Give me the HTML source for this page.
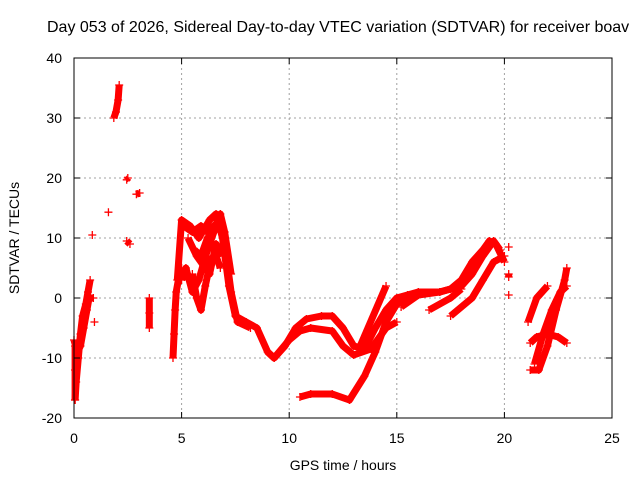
<!DOCTYPE html>
<html><head><meta charset="utf-8"><style>
body{margin:0;background:#fff;width:640px;height:480px;overflow:hidden}
svg text{font-family:"Liberation Sans",sans-serif;font-size:14px;fill:#000}
</style></head><body>
<svg id="chart" width="640" height="480" viewBox="0 0 640 480" xmlns="http://www.w3.org/2000/svg">
<rect width="640" height="480" fill="#fff"/>
<g id="grid"></g>
<g id="marks"></g>
<rect x="74" y="58" width="538" height="360" fill="none" stroke="#000" stroke-width="1"/>
<g id="ticks"></g>
<text x="47" y="32" style="font-size:16px">Day 053 of 2026, Sidereal Day-to-day VTEC variation (SDTVAR) for receiver boav</text>
<text x="343" y="470" text-anchor="middle">GPS time / hours</text>
<text transform="translate(19,238) rotate(-90)" text-anchor="middle">SDTVAR / TECUs</text>
</svg>
<script>
const xTicks=[0,5,10,15,20,25];
const yTicks=[-20,-10,0,10,20,30,40];
const tracks=[
 [[0.05,-17],[0.1,-14],[0.2,-10],[0.3,-6],[0.4,-3],[0.55,-1],[0.65,1],[0.75,3]],
 [[0.05,-8],[0.05,-12],[0.05,-17]],
 [[0.0,-7],[0.15,-9],[0.3,-8],[0.45,-5],[0.6,-2],[0.7,0],[0.9,0]],
 [[0.85,10.5]],[[0.95,-4]],[[1.6,14.3]],
 [[1.85,30],[1.95,31],[2.05,33],[2.1,35.5]],
 [[2.45,19.7],[2.5,20]],[[2.45,9.5],[2.6,9]],[[2.9,17.3],[3.05,17.5]],
 [[3.5,0],[3.5,-2.5],[3.5,-5]],
 [[4.6,-10],[4.65,-6],[4.7,-2],[4.75,1],[4.85,3],[5.0,5]],
 [[4.8,3],[5.0,13],[5.4,12],[5.8,10],[6.3,13],[6.6,14],[6.9,10],[7.2,2],[7.5,-3],[8,-4],[8.5,-5],[9,-9],[9.3,-10],[9.8,-8],[10.3,-5],[10.8,-3.5],[11.5,-3],[12,-3],[12.5,-5],[13,-8],[13.5,-8.5],[14,-5],[14.5,-2],[15,0],[15.5,0.5],[16,1],[17,1],[17.5,1.5],[18,3],[18.5,6],[19,8],[19.3,9.5],[19.6,9],[20,6]],
 [[5.0,3],[5.2,5],[5.5,1],[5.8,3],[6.2,8],[6.5,11],[6.8,14],[7.0,11],[7.3,4]],
 [[5.3,10],[5.7,7],[6.0,5.5],[6.3,4],[6.6,9],[6.9,7]],
 [[5.5,4],[5.7,0],[5.9,-2],[6.1,2],[6.4,7]],
 [[5.1,12],[5.5,11],[5.9,12],[6.2,11],[6.5,12],[6.8,13],[7.0,9],[7.3,1],[7.6,-4],[8.2,-5]],
 [[5.6,8],[5.9,7],[6.2,10],[6.5,8],[6.8,5]],
 [[9.3,-10],[10,-7],[10.5,-5.5],[11,-5],[12,-5.5],[12.5,-8],[13,-9.5],[13.8,-8.5],[14.5,-5],[15,-4]],
 [[10.5,-16.5],[11,-16],[12,-16],[12.8,-17],[13.5,-13],[14,-9],[14.5,-4],[15,-1],[15.5,0],[16,0.5]],
 [[13.3,-8],[14.5,2]],
 [[15.2,-1.5],[16,0.5],[17,1],[18,2],[18.5,4],[19,7],[19.5,9.5],[19.8,8]],
 [[16.5,-2],[17.5,0],[18,1.5]],
 [[17.5,-3],[18.5,0],[19,3],[19.5,6],[20,7]],
 [[20.2,8.5]],[[20.2,4],[20.2,3.5]],[[20.2,0.5]],
 [[21.2,-12],[21.6,-12],[22,-8],[22.4,-2],[22.8,3],[22.9,5]],
 [[21.1,-4],[21.5,0],[22,2]],
 [[21.2,-7.5],[21.5,-6.5],[22,-6],[22.5,-6.5],[22.9,-7.5]],
 [[21.4,-11],[21.8,-6],[22.2,-2],[22.6,1],[22.9,2]]
];
const X=h=>74+h*538/25, Y=v=>418-(v+20)*6;
const NS="http://www.w3.org/2000/svg";
const grid=document.getElementById('grid'),ticks=document.getElementById('ticks'),marks=document.getElementById('marks');
function mk(tag,at,parent){const e=document.createElementNS(NS,tag);for(const k in at)e.setAttribute(k,at[k]);parent.appendChild(e);return e;}
xTicks.forEach(t=>{const x=X(t);
 if(t>0&&t<25){const g=mk('line',{x1:x,x2:x,y1:58,y2:418,stroke:'#a0a0a0','stroke-dasharray':'2,3'},grid);
 
 }
 mk('line',{x1:x,x2:x,y1:418,y2:412,stroke:'#000'},ticks);mk('line',{x1:x,x2:x,y1:58,y2:64,stroke:'#000'},ticks);
 const l=mk('text',{x:x,y:443,'text-anchor':'middle'},ticks);l.textContent=t;
 
 });
yTicks.forEach(t=>{const y=Y(t);
 if(t>-20&&t<40){const g=mk('line',{x1:74,x2:612,y1:y,y2:y,stroke:'#a0a0a0','stroke-dasharray':'2,3'},grid);
 
 }
 mk('line',{x1:74,x2:80,y1:y,y2:y,stroke:'#000'},ticks);mk('line',{x1:612,x2:606,y1:y,y2:y,stroke:'#000'},ticks);
 const l=mk('text',{x:62,y:y+5,'text-anchor':'end'},ticks);l.textContent=t;
 
 });
tracks.forEach(tr=>{
 if(tr.length>1){const p=mk('polyline',{points:tr.map(d=>X(d[0])+','+Y(d[1])).join(' '),fill:'none',stroke:'#f00','stroke-width':7,'stroke-linejoin':'round'},marks);
 
 }
 tr.forEach(d=>{const x=X(d[0]),y=Y(d[1]);
  const m=mk('path',{d:`M${x-4},${y}H${x+4}M${x},${y-4}V${y+4}`,stroke:'#f00','stroke-width':1.3},marks);
  
  });
});
</script>
</body></html>
